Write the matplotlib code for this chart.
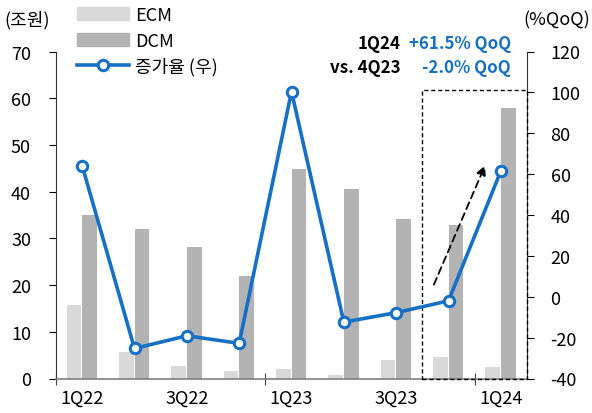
import matplotlib
matplotlib.use("Agg")
import matplotlib.pyplot as plt
from matplotlib.patches import Rectangle, Patch
from matplotlib.lines import Line2D
import numpy as np

plt.rcParams['font.family'] = ['Noto Sans CJK KR', 'DejaVu Sans']
plt.rcParams['axes.unicode_minus'] = False

quarters = ["1Q22", "2Q22", "3Q22", "4Q22", "1Q23", "2Q23", "3Q23", "4Q23", "1Q24"]
ecm = [15.7, 5.6, 2.6, 1.7, 2.1, 0.8, 3.9, 4.6, 2.5]
dcm = [34.9, 32.1, 28.1, 21.9, 44.9, 40.6, 34.2, 32.8, 57.9]
growth = [64.1, -25.3, -19.1, -22.8, 100.4, -12.4, -7.8, -2.0, 61.5]
shown_labels = ["1Q22", "", "3Q22", "", "1Q23", "", "3Q23", "", "1Q24"]

BLUE = "#1670C6"
ECM_C = "#D9D9D9"
DCM_C = "#B3B3B3"
FS = 13
FS_NOTE = 12.2

fig = plt.figure(figsize=(5.92, 4.14), dpi=100)
ax = fig.add_axes([56 / 592, 1 - 379.5 / 414, (527 - 56) / 592, (379.5 - 52.5) / 414])
ax2 = ax.twinx()

x = np.arange(len(quarters))
w = 0.28
ax.bar(x - 0.155, ecm, width=w, color=ECM_C, zorder=2)
ax.bar(x + 0.145, dcm, width=w, color=DCM_C, zorder=2)

ax.set_xlim(-0.5, len(quarters) - 0.5)
ax.set_ylim(0, 70)
ax.set_yticks(np.arange(0, 71, 10))
ax2.set_ylim(-40, 120)
ax2.set_yticks(np.arange(-40, 121, 20))

ax2.plot(x, growth, color=BLUE, lw=2.6, marker="o", markersize=7.5,
         markerfacecolor="white", markeredgecolor=BLUE, markeredgewidth=2.2, zorder=5)

# category labels at centres, ticks at every fourth boundary
ax.set_xticks(x)
ax.set_xticklabels(shown_labels, fontsize=FS)
ax.tick_params(axis="x", length=0, pad=7)
ax.set_xticks([-0.5, 3.5, 7.5], minor=True)
ax.tick_params(axis="x", which="minor", direction="inout", length=8, width=0.8, color="#444444")

ax.tick_params(axis="y", labelsize=FS, direction="out", length=5, width=0.8, pad=13)
ax2.tick_params(axis="y", labelsize=FS, direction="out", length=5, width=0.8, pad=12)

for a in (ax, ax2):
    a.spines["top"].set_visible(False)
ax.spines["right"].set_visible(False)
ax2.spines["left"].set_visible(False)
ax2.spines["bottom"].set_visible(False)
ax.spines["bottom"].set_color("#808080")
ax.spines["bottom"].set_linewidth(1.2)
ax.spines["left"].set_color("#333333")
ax2.spines["right"].set_color("#333333")
ax.set_zorder(1)
ax2.set_zorder(2)
ax.patch.set_visible(False)

# highlight box around the latest two quarters
box = Rectangle((6.5, -40), 2.0, 141, fill=False, ls=(0, (3, 2)), lw=1.0,
                edgecolor="black", zorder=4, clip_on=False)
ax2.add_patch(box)
ax2.annotate("", xy=(7.72, 65.5), xytext=(6.7, 4.7),
             arrowprops=dict(arrowstyle="-|>", ls=(0, (4, 2.5)), lw=1.3,
                             color="black", mutation_scale=14), zorder=6)

# unit labels
fig.text(4 / 592, 1 - 20 / 414, "(조원)", fontsize=FS, ha="left", va="center")
fig.text(590 / 592, 1 - 20 / 414, "(%QoQ)", fontsize=FS, ha="right", va="center")

# growth callout
fig.text(401 / 592, 1 - 44 / 414, "1Q24", fontsize=FS_NOTE, fontweight="bold", ha="right", va="center")
fig.text(511 / 592, 1 - 44 / 414, "+61.5% QoQ", fontsize=FS_NOTE, fontweight="bold",
         color=BLUE, ha="right", va="center")
fig.text(401 / 592, 1 - 68 / 414, "vs. 4Q23", fontsize=FS_NOTE, fontweight="bold", ha="right", va="center")
fig.text(511 / 592, 1 - 68 / 414, "-2.0% QoQ", fontsize=FS_NOTE, fontweight="bold",
         color=BLUE, ha="right", va="center")

handles = [Patch(color=ECM_C), Patch(color=DCM_C),
           Line2D([], [], color=BLUE, lw=2.6, marker="o", markersize=7.5,
                  markerfacecolor="white", markeredgecolor=BLUE, markeredgewidth=2.2)]
fig.legend(handles, ["ECM", "DCM", "증가율 (우)"], loc="upper left",
           bbox_to_anchor=(77 / 592, 1 - 7 / 414), frameon=False, fontsize=FS,
           handlelength=2.9, handletextpad=0.3, labelspacing=0.42, borderpad=0.0,
           borderaxespad=0.0)

fig.savefig("out.png", dpi=100)
